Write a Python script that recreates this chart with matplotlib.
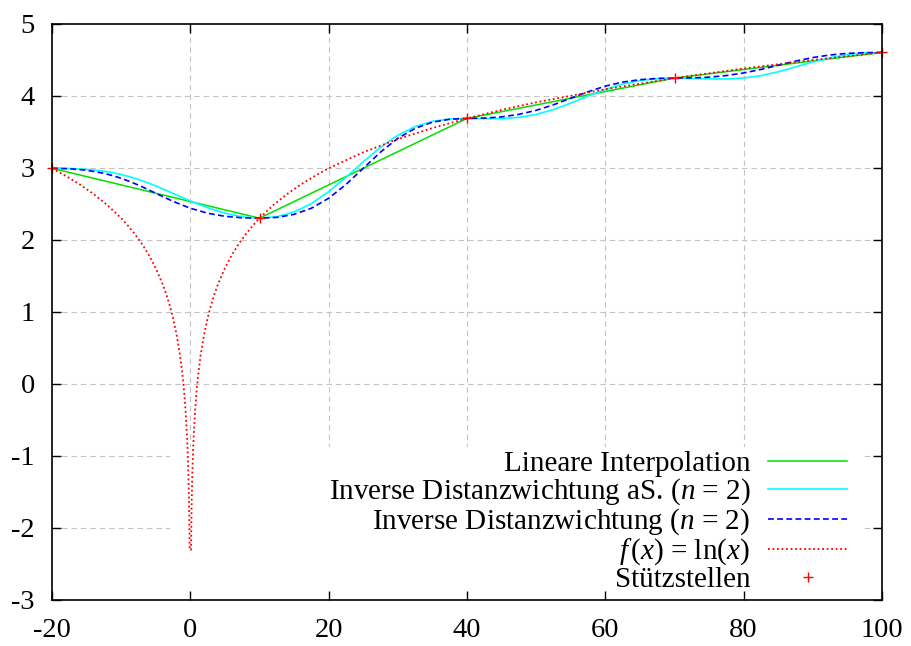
import matplotlib
matplotlib.use('Agg')
import matplotlib.pyplot as plt
from matplotlib.patches import Rectangle

plt.rcParams['font.family'] = ['Liberation Serif', 'DejaVu Serif']
plt.rcParams['mathtext.fontset'] = 'custom'
plt.rcParams['mathtext.rm'] = 'Liberation Serif'
plt.rcParams['mathtext.it'] = 'Liberation Serif:italic'
plt.rcParams['axes.unicode_minus'] = False

# Stützstellen
nodes_x = [-20, 10, 40, 70, 100]
nodes_y = [2.996, 2.303, 3.689, 4.249, 4.605]

# Abtastpunkte der IDW-Kurven
idw_x = [-20, -17.5, -15, -12.5, -11.25, -10, -8.75, -7.5, -6.25, -5, -3.75, -2.5, 0, 2.5, 5, 7.5,
         10, 12.5, 15, 17.5, 20, 22.5, 25, 27.5, 30, 32.5, 35, 37.5,
         40, 42.5, 45, 47.5, 50, 52.5, 55, 57.5, 60, 62.5, 65, 67.5,
         70, 72.5, 75, 77.5, 80, 82.5, 85, 87.5, 90, 92.5, 95, 97.5, 100]

# alle Stützstellen (cyan)
idw_all_y = [2.996, 2.993, 2.982, 2.956, 2.936, 2.910, 2.878, 2.841, 2.798, 2.750, 2.700, 2.647,
             2.543, 2.448, 2.372, 2.321,
             2.303, 2.323, 2.390, 2.506, 2.671, 2.871, 3.086, 3.288, 3.455, 3.575, 3.648, 3.681,
             3.689, 3.686, 3.687, 3.703, 3.744, 3.812, 3.901, 3.999, 4.091, 4.165, 4.215, 4.241,
             4.249, 4.244, 4.237, 4.236, 4.250, 4.283, 4.337, 4.403, 4.472, 4.531, 4.574, 4.598, 4.605]

# nur benachbarte Stützstellen (blau gestrichelt)
idw_local_y = [2.996, 2.990, 2.969, 2.926, 2.895, 2.857, 2.812, 2.762, 2.707, 2.649, 2.592, 2.537,
               2.441, 2.372, 2.329, 2.308,
               2.303, 2.314, 2.356, 2.441, 2.580, 2.771, 2.996, 3.221, 3.412, 3.550, 3.636, 3.677,
               3.689, 3.693, 3.710, 3.745, 3.801, 3.878, 3.969, 4.059, 4.137, 4.193, 4.227, 4.244,
               4.249, 4.251, 4.262, 4.284, 4.320, 4.369, 4.427, 4.485, 4.534, 4.570, 4.592, 4.602, 4.605]

# f(x) = ln(x)
ln_x = [-20, -18, -16, -14, -12, -10, -9, -8, -7, -6, -5, -4, -3.5, -3, -2.5, -2, -1.5, -1.2,
        -1, -0.85, -0.7, -0.5, -0.4, -0.3, -0.2, -0.15, -0.1,
        0.1, 0.15, 0.2, 0.3, 0.4, 0.5, 0.7, 0.85, 1, 1.2, 1.5, 2, 2.5, 3, 3.5, 4,
        5, 6, 7, 8, 9, 10, 12, 14, 16, 18, 20, 25, 30, 35, 40, 45, 50, 60, 70, 80, 90, 100]
ln_y = [2.996, 2.890, 2.773, 2.639, 2.485, 2.303, 2.197, 2.079, 1.946, 1.792, 1.609, 1.386, 1.253, 1.099, 0.916, 0.693, 0.405, 0.182,
        0.0, -0.163, -0.357, -0.693, -0.916, -1.204, -1.609, -1.897, -2.303,
        -2.303, -1.897, -1.609, -1.204, -0.916, -0.693, -0.357, -0.163, 0.0, 0.182, 0.405, 0.693, 0.916, 1.099, 1.253, 1.386,
        1.609, 1.792, 1.946, 2.079, 2.197, 2.303, 2.485, 2.639, 2.773, 2.890, 2.996, 3.219, 3.401, 3.555, 3.689, 3.807, 3.912, 4.094, 4.248, 4.382, 4.500, 4.605]

xticks = [-20, 0, 20, 40, 60, 80, 100]
yticks = [-3, -2, -1, 0, 1, 2, 3, 4, 5]

labels = ['Lineare Interpolation',
          r'Inverse Distanzwichtung aS. ($n$ = 2)',
          r'Inverse Distanzwichtung ($n$ = 2)',
          r'$f\,(x)$ = ln($x$)',
          'Stützstellen']

fig = plt.figure(figsize=(9.12, 6.46), dpi=100)
ax = fig.add_axes([0.05702, 0.07121, 0.91009, 0.89164])
ax.set_xlim(xticks[0], xticks[-1])
ax.set_ylim(yticks[0], yticks[-1])

# grid, manuell damit die Legendenfläche es verdecken kann
for v in xticks[1:-1]:
    ax.axvline(v, color='#c4c4c4', lw=0.8, ls=(0, (5, 3.5)), zorder=0.8)
for v in yticks[1:-1]:
    ax.axhline(v, color='#c4c4c4', lw=0.8, ls=(0, (5, 3.5)), zorder=0.8)

# deckende Fläche hinter der Legende
ax.add_patch(Rectangle((0.1422, 0.0), 0.835, 0.2656, transform=ax.transAxes,
                       facecolor='white', edgecolor='none', zorder=1))

h1, = ax.plot(nodes_x, nodes_y, color='#00e000', lw=1.1, zorder=2)
h2, = ax.plot(idw_x, idw_all_y, color='#00ffff', lw=1.2, zorder=2.1)
h3, = ax.plot(idw_x, idw_local_y, color='#0000ff', lw=1.2, ls=(0, (3.5, 2)), zorder=2.2)
h4, = ax.plot(ln_x, ln_y, color='#ff0000', lw=1.3, ls=(0, (1, 1.5)), zorder=2.3)
h5, = ax.plot(nodes_x, nodes_y, ls='none', marker='+', color='#ff0000', ms=7, mew=1.0,
              zorder=2.4, clip_on=False)

ax.set_xticks(xticks)
ax.set_yticks(yticks)
ax.tick_params(direction='in', top=True, right=True, length=6.3, width=1, labelsize=20.5)
ax.tick_params(axis='x', pad=13)
ax.tick_params(axis='y', pad=12.3)
for s in ax.spines.values():
    s.set_linewidth(1.2)

ax.legend([h1, h2, h3, h4, h5], labels, loc='lower right', bbox_to_anchor=(0.9578, 0.012),
          borderaxespad=0, borderpad=0, frameon=False, markerfirst=False,
          handlelength=2.7, handletextpad=0.62, labelspacing=-0.02, fontsize=21, numpoints=1)

fig.savefig('out.png', dpi=100)
